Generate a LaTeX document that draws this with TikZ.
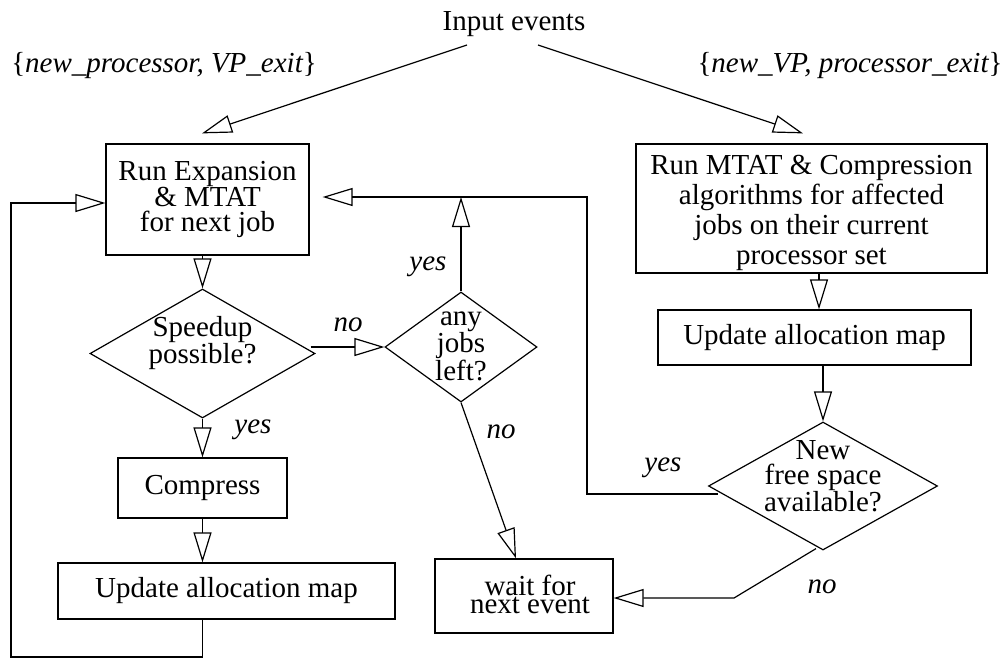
\documentclass[tikz,border=0pt]{standalone}
\usepackage{fontspec}
\setmainfont{Liberation Serif}
\usetikzlibrary{arrows.meta,shapes.geometric,calc}
\begin{document}
\begin{tikzpicture}[x=1pt,y=-1pt,
  txt/.style={inner sep=0pt, align=center, font=\fontsize{29}{25}\selectfont},
  box/.style={draw, line width=1.2pt, rectangle, inner sep=0pt, align=center, font=\fontsize{29}{25}\selectfont},
  dia/.style={draw, line width=1.2pt, diamond, inner sep=0pt},
  lab/.style={inner sep=0pt, font=\fontsize{29}{28}\selectfont\itshape},
  arr/.style={line width=1.2pt, -{Triangle[open, length=30pt, width=18pt, line width=1.2pt]}}]
\useasboundingbox (0,0) rectangle (1004,659);

% texts at top
\node[txt] (in) at (514,24) {Input events};
\node[lab] (lL) at (164,66) {{\upshape\{}new\_processor, VP\_exit{\upshape\}}};
\node[lab] (lR) at (850,66) {{\upshape\{}new\_VP, processor\_exit{\upshape\}}};

% boxes
\node[box, minimum width=203pt, minimum height=111pt] (b1) at (207.5,199.5) {Run Expansion\\\& MTAT\\for next job};
\node[box, minimum width=351pt, minimum height=129pt] (b2) at (811.5,208.5) {};
\node[txt, font=\fontsize{29}{30}\selectfont] (b2t) at (811.5,213) {Run MTAT \& Compression\\algorithms for affected\\jobs on their current\\processor set};
\node[box, minimum width=313pt, minimum height=55pt] (u2) at (814.5,337.5) {Update allocation map};
\node[box, minimum width=169pt, minimum height=60pt] (c) at (202.5,488) {Compress};
\node[box, minimum width=337pt, minimum height=56pt] (u1) at (226.5,591) {Update allocation map};
\node[box, minimum width=178pt, minimum height=74pt] (w) at (524,596) {};
\node[txt, font=\fontsize{29}{18}\selectfont] (wt) at (530,594) {wait for\\next event};

% diamonds
\node[dia, minimum width=225pt, minimum height=129pt] (d1) at (202.5,353.5) {};
\node[txt, font=\fontsize{29}{22}\selectfont] (d1t) at (202.5,343) {Speedup\\possible?};
\node[dia, minimum width=152pt, minimum height=110pt] (d2) at (461,347) {};
\node[txt, font=\fontsize{29}{23}\selectfont] (d2t) at (461,346) {any\\jobs\\left?};
\node[dia, minimum width=229pt, minimum height=128pt] (d3) at (823,486) {};
\node[txt, font=\fontsize{29}{25}\selectfont] (d3t) at (823,476) {New\\free space\\available?};

% labels
\node[lab] (no1) at (348,325) {no};
\node[lab] (yes1) at (428,267) {yes};
\node[lab] (yes2) at (253,430) {yes};
\node[lab] (no2) at (501,432) {no};
\node[lab] (yes3) at (663,468) {yes};
\node[lab] (no3) at (822,587) {no};

% helper coordinates
\coordinate (yc) at (587,197);
\coordinate (lp) at (11,657);
\coordinate (nc) at (734,598);

% connectors
\draw[arr] ([xshift=-47pt,yshift=-21pt]in.center) -- ([xshift=-5.5pt,yshift=10pt]b1.north);
\draw[arr] ([xshift=24pt,yshift=-21pt]in.center) -- ([xshift=-8.5pt,yshift=10pt]b2.north);
\draw[arr] (d1.north |- b1.south) -- (d1.north);
\draw[arr] (d1.south) -- (c.north);
\draw[arr] (c.south) -- (c.south |- u1.north);
\draw[arr] (c.south |- u1.south) |- (lp) |- ([yshift=-3.5pt]b1.west);
\draw[arr] ([xshift=-5pt]d1.east |- d2.west) -- (d2.west);
\draw[arr] (d2.north) -- (d2.north |- yc);
\draw[arr] ([xshift=10pt,yshift=-8pt]d3.west) -| (yc) -- ([xshift=13pt]b1.east |- yc);
\draw[arr] (d2.south) -- ([xshift=-8pt]w.north);
\draw[arr] ([xshift=-7pt,yshift=2pt]d3.south) -- (nc) -- (w.east |- nc);
\draw[arr] ([xshift=7.5pt]b2.south) -- ([xshift=7.5pt]b2.south |- u2.north);
\draw[arr] (d3.north |- u2.south) -- (d3.north);
\end{tikzpicture}
\end{document}
